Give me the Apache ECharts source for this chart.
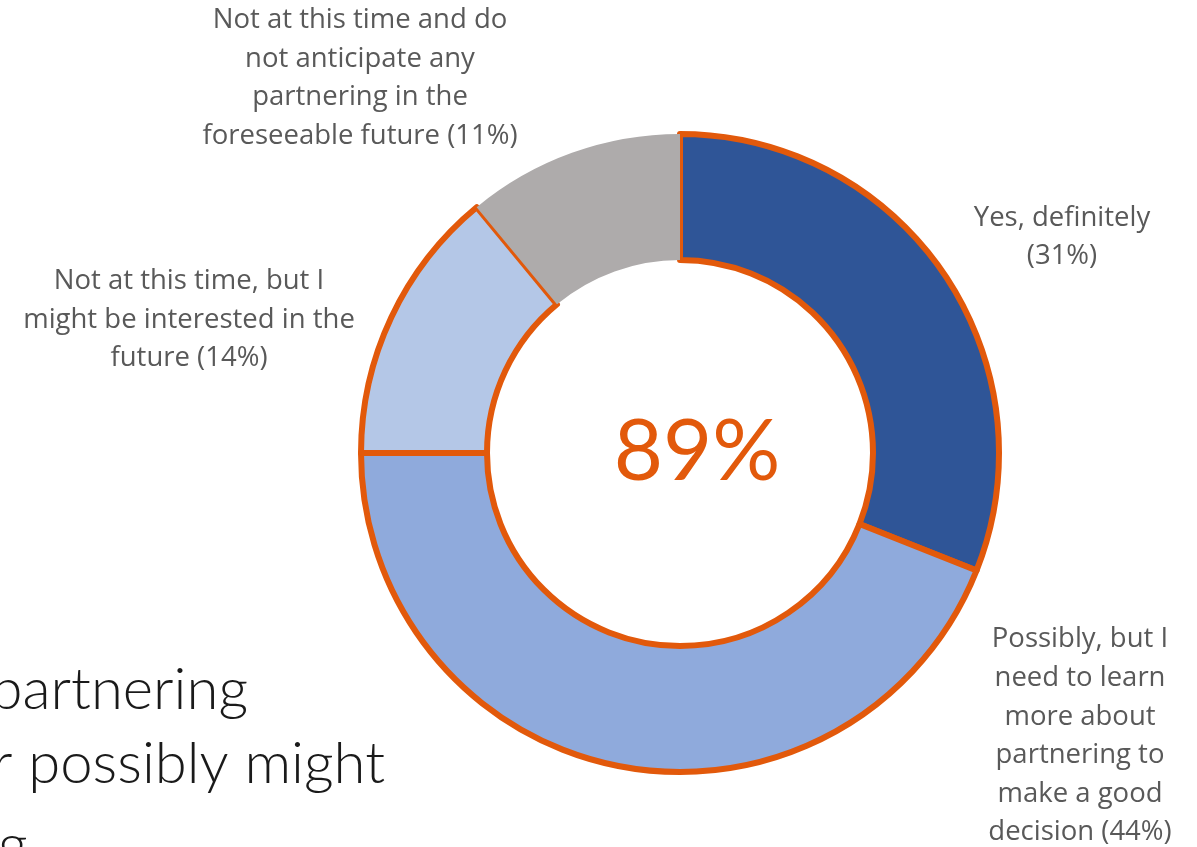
<!DOCTYPE html>
<html>
<head>
<meta charset="utf-8">
<script src="https://cdn.jsdelivr.net/npm/echarts@6/dist/echarts.min.js"></script>
<style>
  html, body { margin: 0; padding: 0; background: #ffffff; }
  #chart { width: 1197px; height: 847px; }
</style>
</head>
<body>
<div id="chart"></div>
<script>
// Survey answers (share of respondents, %), in clockwise order from 12 o'clock
const categories = [
  'Yes, definitely\n',
  'Possibly, but I\nneed to learn\nmore about\npartnering to\nmake a good\ndecision ',
  'Not at this time, but I\nmight be interested in the\nfuture ',
  'Not at this time and do\nnot anticipate any\npartnering in the\nforeseeable future '
];
const values = [31, 44, 14, 11];
// Answers counted as interested (summed in the centre)
const interested = [true, true, true, false];

// Slide text partly covered by the chart
const slideLines = ['partnering', 'r possibly might', 'g'];

const fills = ['#2F5597', '#8FAADC', '#B4C7E7', '#AEABAB'];
const accent = '#E2590B';
const labelSpots = [
  { x: 1062, y: 237 },
  { x: 1080, y: 736 },
  { x: 189, y: 320 },
  { x: 360, y: 78 }
];

const interestedTotal = values.reduce((s, v, i) => s + (interested[i] ? v : 0), 0);

const chart = echarts.init(document.getElementById('chart'), null, { renderer: 'canvas' });

const labelFont = '"Open Sans", sans-serif';
const slideFont = 'Lato, sans-serif';

function slideText(text, x, y, align) {
  return {
    type: 'text',
    z: 0,
    style: {
      x: x, y: y, text: text, align: align, verticalAlign: 'top',
      font: '300 58px ' + slideFont, fill: '#1a1a1a'
    }
  };
}

chart.setOption({
  animation: false,
  backgroundColor: '#ffffff',
  graphic: [
    slideText(slideLines[0], 248, 661, 'right'),
    slideText(slideLines[1], 385, 735, 'right'),
    slideText(slideLines[2], -2, 817, 'left'),
    {
      type: 'text',
      z: 10,
      style: {
        x: 697, y: 453, text: interestedTotal + '%', align: 'center', verticalAlign: 'middle',
        font: '400 85px ' + slideFont, fill: accent
      }
    }
  ],
  series: [{
    type: 'pie',
    center: [680, 453],
    radius: [193, 319],
    startAngle: 90,
    clockwise: true,
    avoidLabelOverlap: false,
    silent: true,
    data: categories.map((name, i) => ({
      name: name,
      value: values[i],
      itemStyle: {
        color: fills[i],
        borderColor: accent,
        borderWidth: interested[i] ? 6 : 0
      }
    })),
    label: {
      show: true,
      position: 'outside',
      formatter: p => p.name + '(' + p.value + '%)',
      color: '#595959',
      fontFamily: labelFont,
      fontSize: 27.5,
      lineHeight: 38.6,
      align: 'center'
    },
    labelLine: { show: false },
    labelLayout: p => ({
      x: labelSpots[p.dataIndex].x,
      y: labelSpots[p.dataIndex].y,
      align: 'center',
      verticalAlign: 'middle'
    })
  }]
});
</script>
</body>
</html>
